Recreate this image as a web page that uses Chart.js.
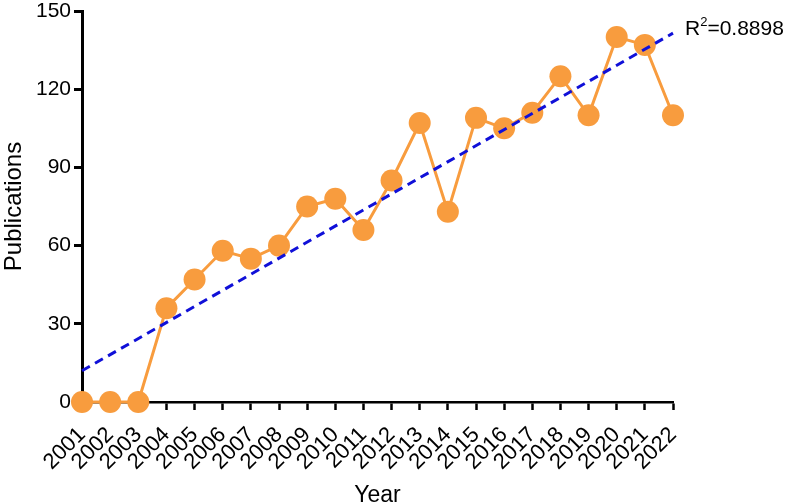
<!DOCTYPE html>
<html>
<head>
<meta charset="utf-8">
<script src="https://cdn.jsdelivr.net/npm/chart.js@4/dist/chart.umd.min.js"></script>
<style>
  html, body { margin: 0; padding: 0; background: #fff; }
  #wrap { width: 788px; height: 504px; }
</style>
</head>
<body>
<div id="wrap"><canvas id="myChart"></canvas></div>
<script>
// Publications per year
const years = [2001, 2002, 2003, 2004, 2005, 2006, 2007, 2008, 2009, 2010, 2011,
               2012, 2013, 2014, 2015, 2016, 2017, 2018, 2019, 2020, 2021, 2022];
const publications = [0, 0, 0, 36, 47, 58, 55, 60, 75, 78, 66,
                      85, 107, 73, 109, 105, 111, 125, 110, 140, 137, 110];

// Linear trend line end points (as drawn in the figure)
const trendYears = [2001, 2022];
const trendValues = [12, 141.5];
const rSquared = '0.8898';

const yTicks = [0, 30, 60, 90, 120, 150];

const FONT = '"Liberation Sans", Arial, sans-serif';

// Writes "R²=0.8898" just right of the end of the trend line
const r2Label = {
    id: 'r2Label',
    afterDraw(chart) {
        const { ctx, scales } = chart;
        const x = scales.x.getPixelForValue(trendYears[1]) + 12;
        const y = scales.y.getPixelForValue(trendValues[1]) + 2;
        ctx.save();
        ctx.fillStyle = '#000';
        ctx.textBaseline = 'alphabetic';
        ctx.textAlign = 'left';
        ctx.font = '21px ' + FONT;
        ctx.fillText('R', x, y);
        let w = ctx.measureText('R').width;
        ctx.font = '13px ' + FONT;
        ctx.fillText('2', x + w, y - 9);
        w += ctx.measureText('2').width;
        ctx.font = '21px ' + FONT;
        ctx.fillText('=' + rSquared, x + w, y);
        ctx.restore();
    }
};

new Chart(document.getElementById('myChart').getContext('2d'), {
    type: 'scatter',
    data: {
        datasets: [
            {
                label: 'Publications',
                data: years.map((yr, i) => ({ x: yr, y: publications[i] })),
                showLine: true,
                borderColor: '#F89C3E',
                backgroundColor: '#F89C3E',
                borderWidth: 3,
                pointRadius: 11,
                pointHoverRadius: 11,
                pointBorderWidth: 0,
                clip: false,
                order: 1
            },
            {
                label: 'Trend',
                data: trendYears.map((yr, i) => ({ x: yr, y: trendValues[i] })),
                showLine: true,
                borderColor: '#1010D8',
                borderWidth: 3,
                borderDash: [9, 6],
                pointRadius: 0,
                clip: false,
                order: 0
            }
        ]
    },
    options: {
        responsive: true,
        maintainAspectRatio: false,
        animation: false,
        layout: { padding: { top: 8, right: 115, left: 0, bottom: 0 } },
        plugins: {
            legend: { display: false },
            tooltip: { enabled: false }
        },
        scales: {
            x: {
                type: 'linear',
                min: years[0],
                max: years[years.length - 1],
                afterBuildTicks: axis => { axis.ticks = years.map(v => ({ value: v })); },
                afterFit: axis => {
                    axis.height = 102;
                    axis.paddingLeft = 0;
                    axis.paddingRight = 0;
                },
                ticks: {
                    autoSkip: false,
                    minRotation: 45,
                    maxRotation: 45,
                    color: '#000',
                    padding: 12,
                    font: { family: FONT, size: 22 },
                    callback: v => String(v)
                },
                grid: {
                    drawOnChartArea: false,
                    tickLength: 8,
                    tickWidth: 2.5,
                    tickColor: '#000'
                },
                border: { color: '#000', width: 2.5 },
                title: {
                    display: true,
                    text: 'Year',
                    color: '#000',
                    font: { family: FONT, size: 23 },
                    padding: { top: 0, bottom: -5 }
                }
            },
            y: {
                min: 0,
                max: 150,
                afterBuildTicks: axis => { axis.ticks = yTicks.map(v => ({ value: v })); },
                afterFit: axis => {
                    axis.width = 82;
                    axis.paddingTop = 0;
                    axis.paddingBottom = 0;
                },
                ticks: {
                    color: '#000',
                    padding: 3,
                    font: { family: FONT, size: 21 }
                },
                grid: {
                    drawOnChartArea: false,
                    tickLength: 8,
                    tickWidth: 3,
                    tickColor: '#000'
                },
                border: { color: '#000', width: 3 },
                title: {
                    display: true,
                    text: 'Publications',
                    color: '#000',
                    font: { family: FONT, size: 24 },
                    padding: { top: 0, bottom: 0 }
                }
            }
        }
    },
    plugins: [r2Label]
});
</script>
</body>
</html>
